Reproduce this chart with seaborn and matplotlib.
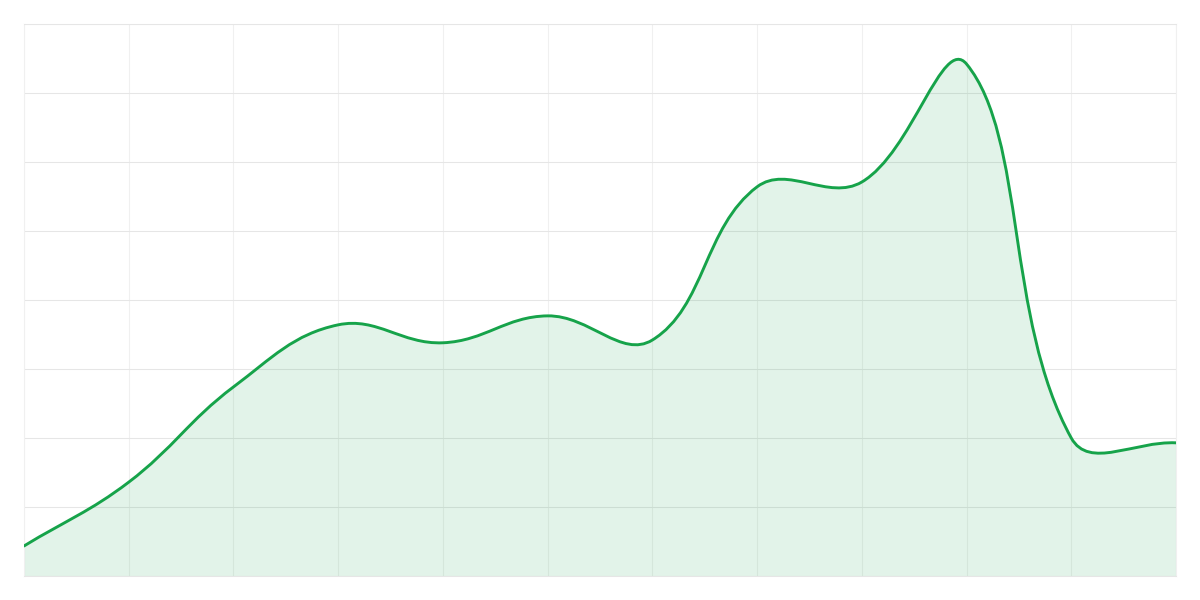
import numpy as np
import matplotlib
matplotlib.use("Agg")
import matplotlib.pyplot as plt
from matplotlib.path import Path
from matplotlib.patches import PathPatch
import seaborn as sns

# data (12 points, y axis 0..80)
positions = list(range(12))
values = [4.35, 13.6, 27.4, 36.4, 33.8, 37.7, 34.2, 56.4, 57.1, 74.2, 20.0, 19.3]
y_ticks = list(range(0, 81, 10))

line_color = "#16a34a"
fill_color = (22 / 255, 163 / 255, 74 / 255, 0.12)

sns.set_theme(style="whitegrid")

fig = plt.figure(figsize=(12, 6), dpi=100)
ax = fig.add_axes([0.02, 0.04, 0.96, 0.92])
ax.set_xlim(positions[0], positions[-1])
ax.set_ylim(y_ticks[0], y_ticks[-1])
ax.set_xticks(positions)
ax.set_yticks(y_ticks)
ax.set_xticklabels([])
ax.set_yticklabels([])
ax.tick_params(length=0)
ax.set_axisbelow(True)

#grid: horizontal a bit darker than vertical
ax.xaxis.grid(True, color="#f0f0f0", lw=0.75)
ax.yaxis.grid(True, color="#e6e6e6", lw=0.75)
for side in ["top", "bottom"]:
    ax.spines[side].set_color("#e6e6e6")
    ax.spines[side].set_linewidth(0.75)
for side in ["left", "right"]:
    ax.spines[side].set_color("#f0f0f0")
    ax.spines[side].set_linewidth(0.75)

#smooth curve: spline with tension 0.4, control points found in pixel space
tension = 0.4
pts = ax.transData.transform(np.column_stack([positions, values]))
n = len(pts)
cp_in = np.zeros_like(pts)
cp_out = np.zeros_like(pts)
for i in range(n):
    cur = pts[i]
    prev = pts[i - 1] if i > 0 else cur
    nxt = pts[i + 1] if i < n - 1 else cur
    d01 = np.hypot(*(cur - prev))
    d12 = np.hypot(*(nxt - cur))
    tot = d01 + d12
    s01 = d01 / tot if tot else 0
    s12 = d12 / tot if tot else 0
    cp_in[i] = cur - tension * s01 * (nxt - prev)
    cp_out[i] = cur + tension * s12 * (nxt - prev)

verts = [pts[0]]
codes = [Path.MOVETO]
for i in range(n - 1):
    verts += [cp_out[i], cp_in[i + 1], pts[i + 1]]
    codes += [Path.CURVE4] * 3
inv = ax.transData.inverted()
verts = inv.transform(np.array(verts))

curve = Path(verts, codes)
area = Path(
    np.vstack([verts, [[positions[-1], 0], [positions[0], 0], verts[0]]]),
    codes + [Path.LINETO, Path.LINETO, Path.CLOSEPOLY],
)

ax.add_patch(PathPatch(area, facecolor=fill_color, edgecolor="none", zorder=2))
ax.add_patch(PathPatch(curve, facecolor="none", edgecolor=line_color, lw=2.1,
                       capstyle="round", joinstyle="round", zorder=3))

fig.savefig("out.png", dpi=100, facecolor="white")
